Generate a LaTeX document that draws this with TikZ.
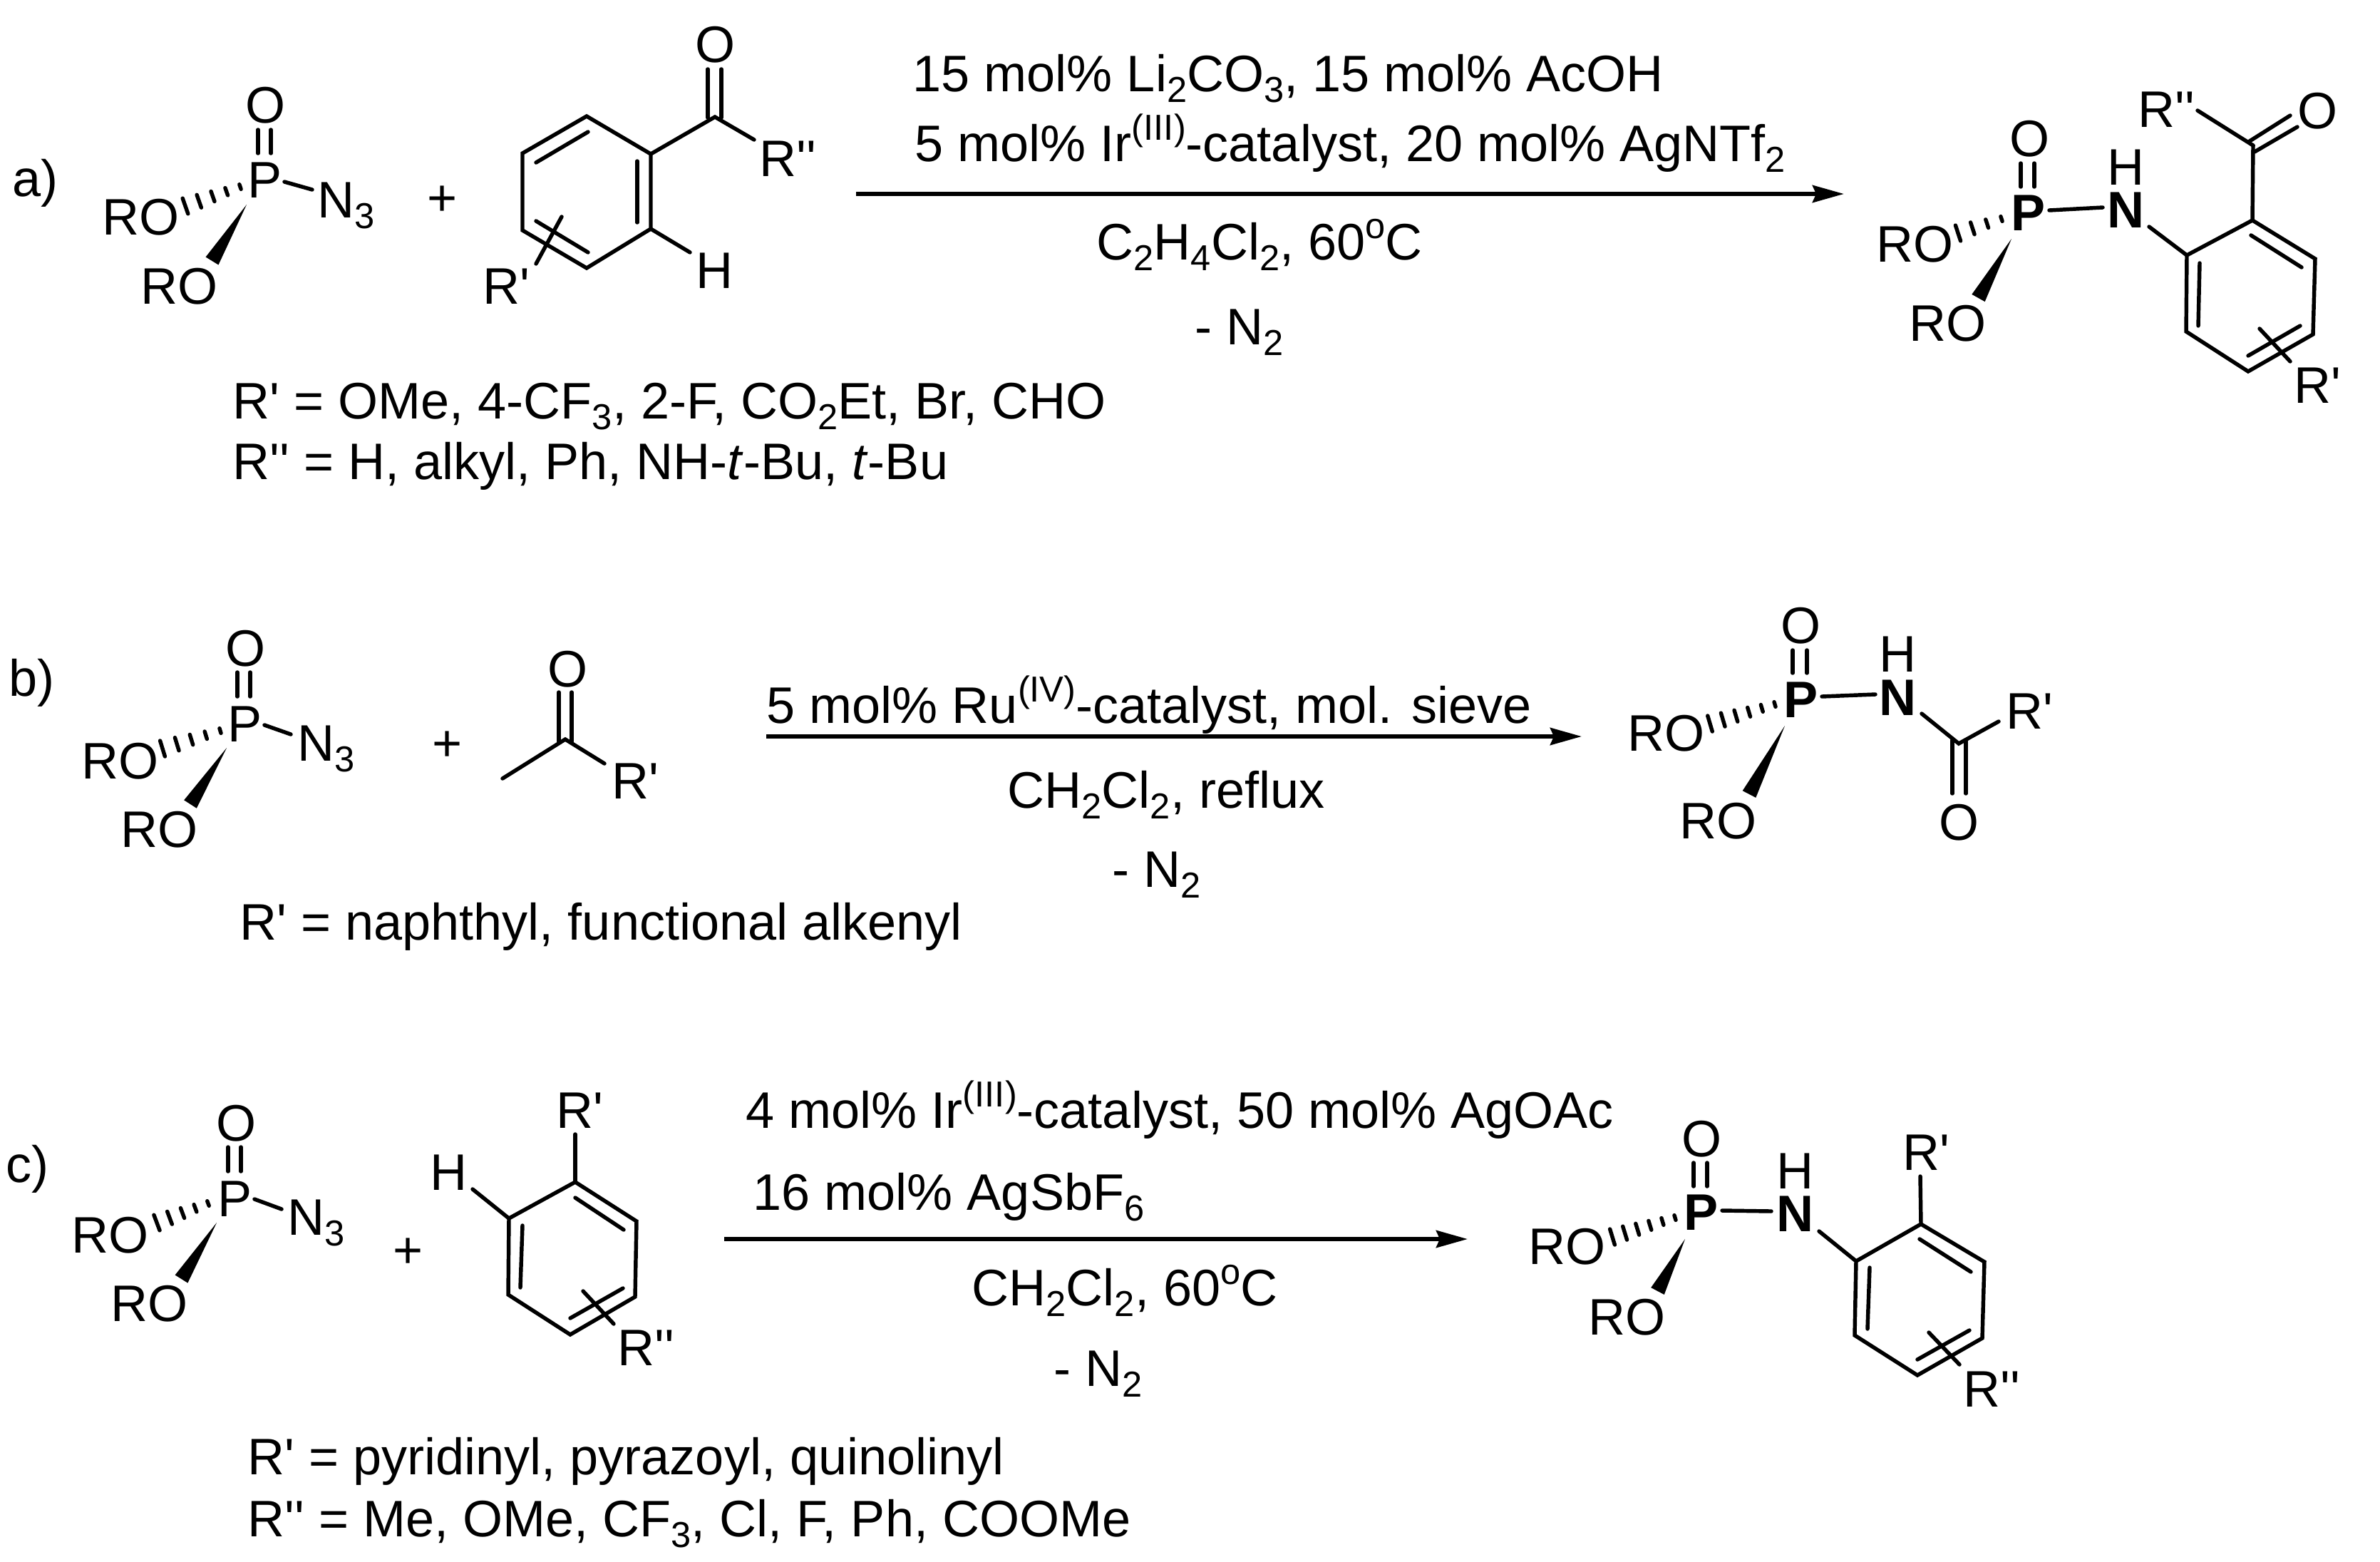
\documentclass[tikz,border=0pt]{standalone}
\usepackage{fontspec}
\setmainfont{Liberation Sans}[Ligatures=TeXOff]
\usetikzlibrary{calc,arrows.meta}
\newcommand{\subs}[1]{\raisebox{-0.21em}{\fontsize{14.4}{16}\selectfont #1}}
\newcommand{\sups}[1]{\raisebox{0.41em}{\fontsize{14.4}{16}\selectfont #1}}
\newcommand{\hashbond}[3]{%
    \coordinate (hz) at ($(#2)!1.5!(#3)$);
    \foreach \i in {1,...,#1}{
        \pgfmathsetmacro{\hpos}{(\i-1)/(#1-1)}
        \pgfmathsetmacro{\hlen}{0.035+0.08*\hpos}
        \coordinate (hc) at ($(#2)!\hpos!(#3)$);
        \draw[bond] ($(hc)!\hlen cm!90:(hz)$)--($(hc)!\hlen cm!-90:(hz)$);
    }
}
\newcommand{\wedgebond}[2]{\fill (#1)--($(#2)!0.105cm!90:(#1)$)--($(#2)!0.105cm!-90:(#1)$)--cycle;}
\tikzset{bond/.style={line width=1.55pt,line cap=round},rxn/.style={line width=1.7pt,->}}
\begin{document}
\begin{tikzpicture}[>={Stealth[length=0.44cm,width=0.24cm,inset=0.05cm]},every node/.style={anchor=base west,inner sep=0pt,font=\fontsize{20.5}{24}\selectfont}]
    \useasboundingbox (0,0) rectangle (33.39,-21.90);
    % a)
    \node (alabel) at (0.17,-2.75) {a)};
    \node (aO) at (3.435,-1.72) {O};
    \node (aP) at (3.47,-2.77) {P};
    \node (aNt) at (4.45,-3.05) {N\subs{3}};
    \node (aROa) at (1.43,-3.29) {RO};
    \node (aROb) at (1.97,-4.26) {RO};
    \node[anchor=center] (aplus) at (6.21,-2.82) {+};
    \draw[bond](3.62,-1.82)--(3.62,-2.15);
    \draw[bond](3.80,-1.82)--(3.80,-2.15);
    \draw[bond](3.99,-2.55)--(4.38,-2.66);
    \hashbond{5}{3.37,-2.62}{2.60,-2.89}
    \wedgebond{3.46,-2.87}{2.975,-3.66}
    \draw[bond](8.23,-1.63)--(9.13,-2.16)--(9.13,-3.21)--(8.23,-3.76)--(7.33,-3.23)--(7.33,-2.15)--cycle;
    \draw[bond](8.25,-1.85)--(7.52,-2.28);
    \draw[bond](8.94,-2.26)--(8.94,-3.12);
    \draw[bond](7.52,-3.10)--(8.25,-3.54);
    \draw[bond](7.88,-3.04)--(7.52,-3.70);
    \node (aRp) at (6.77,-4.26) {R'};
    \node (aH) at (9.76,-4.04) {H};
    \draw[bond](9.13,-3.21)--(9.68,-3.54);
    \draw[bond](9.13,-2.16)--(10.03,-1.64)--(10.58,-1.96);
    \draw[bond](9.93,-0.97)--(9.93,-1.65);
    \draw[bond](10.12,-0.97)--(10.12,-1.65);
    \node (aOk) at (9.745,-0.87) {O};
    \node (aRpp) at (10.65,-2.47) {R''};
    \coordinate (astart) at (12.01,-2.72);
    \coordinate (aend) at (25.87,-2.72);
    \draw[rxn](astart)--(aend);
    \node (aconda) at (12.80,-1.28) {15 mol\% Li\subs{2}CO\subs{3}, 15 mol\% AcOH};
    \node (acondb) at (12.83,-2.26) {5 mol\% Ir\sups{(III)}-catalyst, 20 mol\% AgNTf\subs{2}};
    \node (acondc) at (15.38,-3.64) {C\subs{2}H\subs{4}Cl\subs{2}, 60\sups{o}C};
    \node (acondd) at (16.76,-4.83) {- N\subs{2}};
    \node (aRa) at (3.26,-5.87) {R' = OMe, 4-CF\subs{3}, 2-F, CO\subs{2}Et, Br, CHO};
    \node (aRb) at (3.26,-6.72) {R'' = H, alkyl, Ph, NH-\textit{t}-Bu, \textit{t}-Bu};
    \node (apO) at (28.185,-2.19) {O};
    \node (apP) at (28.21,-3.23) {\textbf{P}};
    \node (apN) at (29.56,-3.19) {\textbf{N}};
    \node (apH) at (29.56,-2.59) {H};
    \node (apROa) at (26.32,-3.67) {RO};
    \node (apROb) at (26.78,-4.78) {RO};
    \draw[bond](28.35,-2.29)--(28.35,-2.62);
    \draw[bond](28.54,-2.29)--(28.54,-2.62);
    \draw[bond](28.75,-2.95)--(29.50,-2.91);
    \hashbond{4}{28.08,-3.07}{27.47,-3.27}
    \wedgebond{28.22,-3.35}{27.755,-4.18}
    \draw[bond](30.15,-3.18)--(30.68,-3.58);
    \draw[bond](30.68,-3.58)--(31.60,-3.09)--(32.48,-3.63)--(32.45,-4.69)--(31.54,-5.21)--(30.67,-4.65)--cycle;
    \draw[bond](30.86,-3.69)--(30.84,-4.57);
    \draw[bond](31.58,-3.30)--(32.29,-3.75);
    \draw[bond](31.54,-4.99)--(32.27,-4.57);
    \draw[bond](31.70,-4.61)--(32.13,-5.07);
    \node (apRp) at (32.18,-5.65) {R'};
    \draw[bond](31.60,-3.09)--(31.61,-2.04);
    \draw[bond](31.61,-2.04)--(30.83,-1.55);
    \draw[bond](31.56,-1.98)--(32.13,-1.62);
    \draw[bond](31.63,-2.13)--(32.23,-1.78);
    \node (apOk) at (32.225,-1.80) {O};
    \node (apRpp) at (29.99,-1.78) {R''};
    % b)
    \node (blabel) at (0.12,-9.76) {b)};
    \node (bO) at (3.155,-9.34) {O};
    \node (bP) at (3.19,-10.40) {P};
    \node (bNt) at (4.17,-10.67) {N\subs{3}};
    \node (bROa) at (1.14,-10.92) {RO};
    \node (bROb) at (1.69,-11.88) {RO};
    \node[anchor=center] (bplus) at (6.28,-10.47) {+};
    \draw[bond](3.33,-9.43)--(3.33,-9.77);
    \draw[bond](3.51,-9.43)--(3.51,-9.77);
    \draw[bond](3.71,-10.17)--(4.08,-10.30);
    \hashbond{5}{3.09,-10.25}{2.28,-10.50}
    \wedgebond{3.18,-10.49}{2.67,-11.28}
    \draw[bond](7.05,-10.92)--(7.93,-10.37)--(8.48,-10.71);
    \draw[bond](7.84,-9.71)--(7.84,-10.40);
    \draw[bond](8.02,-9.71)--(8.02,-10.40);
    \node (bOk) at (7.675,-9.63) {O};
    \node (bRp) at (8.58,-11.20) {R'};
    \coordinate (bstart) at (10.75,-10.33);
    \coordinate (bend) at (22.19,-10.33);
    \draw[rxn](bstart)--(bend);
    \node (bconda) at (10.75,-10.14) {5 mol\% Ru\sups{(IV)}-catalyst, mol. sieve};
    \node (bcondb) at (14.13,-11.33) {CH\subs{2}Cl\subs{2}, reflux};
    \node (bcondc) at (15.60,-12.44) {- N\subs{2}};
    \node (bRa) at (3.36,-13.18) {R' = naphthyl, functional alkenyl};
    \node (bpO) at (24.975,-9.02) {O};
    \node (bpP) at (25.02,-10.06) {\textbf{P}};
    \node (bpN) at (26.36,-10.03) {\textbf{N}};
    \node (bpH) at (26.36,-9.42) {H};
    \node (bpROa) at (22.83,-10.53) {RO};
    \node (bpROb) at (23.56,-11.76) {RO};
    \draw[bond](25.15,-9.12)--(25.15,-9.44);
    \draw[bond](25.35,-9.12)--(25.35,-9.44);
    \draw[bond](25.56,-9.77)--(26.31,-9.74);
    \hashbond{6}{24.90,-9.88}{23.99,-10.15}
    \wedgebond{25.04,-10.18}{24.54,-11.14}
    \draw[bond](26.96,-10.01)--(27.48,-10.43)--(28.04,-10.12);
    \draw[bond](27.39,-10.38)--(27.39,-11.13);
    \draw[bond](27.58,-10.38)--(27.58,-11.13);
    \node (bpOk) at (27.195,-11.78) {O};
    \node (bpRp) at (28.14,-10.22) {R'};
    % c)
    \node (clabel) at (0.08,-16.58) {c)};
    \node (cO) at (3.025,-16.00) {O};
    \node (cP) at (3.05,-17.06) {P};
    \node (cNt) at (4.03,-17.32) {N\subs{3}};
    \node (cROa) at (1.00,-17.57) {RO};
    \node (cROb) at (1.55,-18.53) {RO};
    \node[anchor=center] (cplus) at (5.73,-17.58) {+};
    \draw[bond](3.20,-16.09)--(3.20,-16.43);
    \draw[bond](3.38,-16.09)--(3.38,-16.43);
    \draw[bond](3.57,-16.82)--(3.95,-16.96);
    \hashbond{5}{2.92,-16.88}{2.20,-17.15}
    \wedgebond{3.04,-17.15}{2.545,-17.94}
    \draw[bond](8.07,-16.58)--(8.93,-17.13)--(8.91,-18.19)--(8.00,-18.72)--(7.13,-18.16)--(7.14,-17.09)--cycle;
    \draw[bond](8.07,-16.80)--(8.75,-17.25);
    \draw[bond](7.33,-17.19)--(7.30,-18.06);
    \draw[bond](8.00,-18.49)--(8.74,-18.07);
    \draw[bond](8.18,-18.11)--(8.61,-18.57);
    \node (cRpp) at (8.66,-19.15) {R''};
    \draw[bond](8.07,-16.58)--(8.07,-15.91);
    \node (cRp) at (7.80,-15.82) {R'};
    \node (cH) at (6.03,-16.69) {H};
    \draw[bond](7.14,-17.09)--(6.63,-16.68);
    \coordinate (cstart) at (10.16,-17.38);
    \coordinate (cend) at (20.59,-17.38);
    \draw[rxn](cstart)--(cend);
    \node (cconda) at (10.46,-15.82) {4 mol\% Ir\sups{(III)}-catalyst, 50 mol\% AgOAc};
    \node (ccondb) at (10.56,-16.97) {16 mol\% AgSbF\subs{6}};
    \node (ccondc) at (13.63,-18.31) {CH\subs{2}Cl\subs{2}, 60\sups{o}C};
    \node (ccondd) at (14.78,-19.44) {- N\subs{2}};
    \node (cRa) at (3.47,-20.68) {R' = pyridinyl, pyrazoyl, quinolinyl};
    \node (cRb) at (3.47,-21.55) {R'' = Me, OMe, CF\subs{3}, Cl, F, Ph, COOMe};
    \node (cpO) at (23.585,-16.22) {O};
    \node (cpP) at (23.62,-17.25) {\textbf{P}};
    \node (cpN) at (24.92,-17.27) {\textbf{N}};
    \node (cpH) at (24.92,-16.67) {H};
    \node (cpROa) at (21.44,-17.73) {RO};
    \node (cpROb) at (22.28,-18.72) {RO};
    \draw[bond](23.76,-16.31)--(23.76,-16.64);
    \draw[bond](23.95,-16.31)--(23.95,-16.64);
    \draw[bond](24.16,-16.98)--(24.85,-16.99);
    \hashbond{6}{23.50,-17.08}{22.62,-17.35}
    \wedgebond{23.64,-17.38}{23.255,-18.11}
    \draw[bond](25.52,-17.27)--(26.04,-17.69);
    \draw[bond](26.04,-17.69)--(26.95,-17.17)--(27.84,-17.70)--(27.81,-18.77)--(26.90,-19.29)--(26.02,-18.73)--cycle;
    \draw[bond](26.23,-17.78)--(26.20,-18.64);
    \draw[bond](26.93,-17.38)--(27.65,-17.84);
    \draw[bond](26.90,-19.07)--(27.63,-18.66);
    \draw[bond](27.06,-18.69)--(27.49,-19.14);
    \draw[bond](26.95,-17.17)--(26.94,-16.50);
    \node (cpRp) at (26.69,-16.41) {R'};
    \node (cpRpp) at (27.54,-19.73) {R''};
\end{tikzpicture}
\end{document}
